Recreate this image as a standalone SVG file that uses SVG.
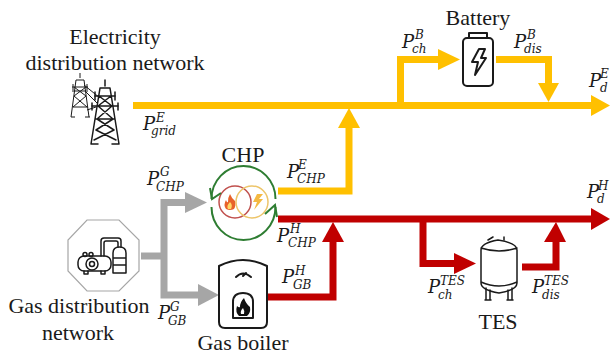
<svg xmlns="http://www.w3.org/2000/svg" width="610" height="355" viewBox="0 0 610 355">
<style>
text{font-family:"Liberation Serif","Times New Roman",serif;fill:#1a1a1a}
.t{font-size:22px}
.m{font-family:"DejaVu Serif",serif;font-size:18px;font-style:italic}
.s{font-family:"DejaVu Serif",serif;font-size:12px;font-style:italic}
.y{fill:none;stroke:#ffc000;stroke-width:7}
.r{fill:none;stroke:#c00000;stroke-width:7}
.g{fill:none;stroke:#a6a6a6;stroke-width:7}
.yh{fill:#ffc000}.rh{fill:#c00000}.gh{fill:#a6a6a6}
.i{fill:none;stroke:#1a1a1a;stroke-width:1.5;stroke-linejoin:round;stroke-linecap:round}
.it{fill:none;stroke:#1a1a1a;stroke-width:1;stroke-linejoin:round}
.k{fill:none;stroke:#1a1a1a;stroke-width:2;stroke-linejoin:round;stroke-linecap:round}
.gr{fill:none;stroke:#2e7d32;stroke-width:2}
</style>
<rect width="610" height="355" fill="#fff"/>
<g id="connectors">
<path class="y" d="M133 105.5H592"/><path class="yh" d="M591 95L610 105.500L591 116Z"/>
<path class="y" d="M400.500 105V59.500H439"/><path class="yh" d="M438 49L460 59.500L438 70Z"/>
<path class="y" d="M496 59.500H548.500V84"/><path class="yh" d="M538 83L559 83L548.500 102Z"/>
<path class="y" d="M278 191H349V128"/><path class="yh" d="M338 128H360L349 108Z"/>
<path class="r" d="M278 219H592"/><path class="rh" d="M591 208L610 219L591 230Z"/>
<path class="r" d="M267 297H333V241"/><path class="rh" d="M322 242H344L333 222Z"/>
<path class="r" d="M423 219V263.500H455"/><path class="rh" d="M454 253L476 263.500L454 274Z"/>
<path class="r" d="M522 267H556V241"/><path class="rh" d="M544 242H566L556 222Z"/>
<path class="g" d="M141 256H164"/>
<path class="g" d="M186 202.500H164V295H199"/>
<path class="gh" d="M185 192L207 202.500L185 213Z"/><path class="gh" d="M198 284L219 295L198 306Z"/>
</g>
<g id="grid">
<text class="t" x="115" y="44" text-anchor="middle">Electricity</text>
<text class="t" x="115" y="70" text-anchor="middle">distribution network</text>
<g class="it">
<path d="M80 73V78M76 80L71 117M84 80L89 117M76 80H84M72 87H88M74 87L86 96L73 107L88 107M86 87L74 96L87 107M71 117H75M85 117H90M72 91H88"/>
<path d="M73 84V90M87 84V90M84 85L100 98M86 92L98 104M87 110L96 107"/>
</g>
<g class="i">
<path d="M105 80V86M100 88L91 144M110 88L119 144M100 88H110M95 96H115M92 106H118M99 96L112 106L97 119L114 130L94 140M111 96L98 106L113 119L96 130L116 140M96 119H114M91 144H98M112 144H119"/>
<path d="M95 92V100M115 92V100M92 103V110M118 103V110"/>
</g>
</g>
<g id="gas-network">
<path d="M87 220H119L139 240V271L119 291H87L68 271V240Z" fill="#fff" stroke="#a6a6a6" stroke-width="1.200"/>
<g class="i">
<rect x="78" y="256" width="33" height="15" rx="6"/>
<circle cx="92" cy="264" r="6"/><circle cx="92" cy="264" r="2.500"/>
<circle cx="85" cy="254.500" r="2"/><circle cx="91" cy="254.500" r="2"/>
<path d="M84 271v3h4v-3M101 271v3h4v-3"/>
<path d="M113 273V253Q113 247 119.500 247Q126 247 126 253V273ZM113 258H126M113 265H126"/>
<path d="M101 256V241Q101 238 104 238H118Q121 238 121 241V247M104 256V243Q104 241 106 241H116Q118 241 118 243V247"/>
</g>
<text class="t" x="79" y="313" text-anchor="middle">Gas distribution</text>
<text class="t" x="78" y="340" text-anchor="middle">network</text>
</g>
<g id="chp">
<text class="t" x="243" y="162" text-anchor="middle">CHP</text>
<circle cx="235" cy="202" r="16" fill="none" stroke="#c0504d" stroke-width="1.500"/>
<circle cx="252" cy="202" r="16" fill="none" stroke="#edc56a" stroke-width="1.500"/>
<path d="M230 194Q232 199 235 201Q236 206 234 209Q230 211 226 209Q223 205 226 200Q227 203 228 202Q228 197 230 194Z" fill="#e8622a"/>
<path d="M230 202Q233 205 231 209H228Q226 206 230 202Z" fill="#ffd966"/>
<path d="M257 194H263L259 199H263L254 210L257 202H253Z" fill="#f4b942"/>
<path class="gr" d="M275.500 199A32 33 0 0 0 211.500 199"/>
<path class="gr" d="M211.500 207A32 33 0 0 0 275.500 207"/>
<path class="gr" d="M210 188L212 199L221 193"/>
<path class="gr" d="M265 214L275 205L277 217"/>
</g>
<g id="boiler">
<path class="k" d="M219 266Q243 254 267 266V322Q267 328 261 328H225Q219 328 219 322Z" stroke-width="1.800"/>
<path class="k" d="M236 277Q243 270 251 277M243 276L246 273" stroke-width="1.500"/>
<path class="k" d="M233 318V302Q233 293 243 293Q253 293 253 302V318Z" stroke-width="1.500"/>
<path d="M244 298Q246 304 250 307Q251 313 247 316H239Q235 312 237 306Q239 308 240 307Q240 302 244 298Z" fill="#111"/>
<path d="M243 308Q245 311 244 314H241Q240 311 243 308Z" fill="#fff"/>
<text class="t" x="243" y="350" text-anchor="middle">Gas boiler</text>
</g>
<g id="battery">
<text class="t" x="478" y="25" text-anchor="middle">Battery</text>
<rect x="463" y="38" width="30" height="48" rx="4" class="k"/>
<path class="k" d="M469 38V33H487V38" stroke-width="1.800"/>
<path class="k" d="M479 49H485L481 58H486L475 75L478 62H472Z" stroke-width="1.500"/>
</g>
<g id="tes">
<path class="i" stroke="#444" d="M481 250Q481 243 498 240Q517 243 517 250V283Q517 290 499 293Q481 290 481 283ZM481 248Q499 254 517 248M481 282Q499 290 517 282"/>
<path class="i" d="M488 240L493 237M504 237V240M486 288V300M490 290V300M508 290V300M512 288V300M485 300H491M507 300H513" stroke-width="1.200"/>
<text class="t" x="498" y="329" text-anchor="middle">TES</text>
</g>
<g id="labels">
<text><tspan class="m" x="143" y="130">P</tspan><tspan class="s" x="156" y="122">E</tspan><tspan class="s" x="151" y="135">grid</tspan></text>
<text><tspan class="m" x="147" y="185">P</tspan><tspan class="s" x="160" y="176">G</tspan><tspan class="s" x="156" y="191">CHP</tspan></text>
<text><tspan class="m" x="158" y="319">P</tspan><tspan class="s" x="170" y="311">G</tspan><tspan class="s" x="168" y="325">GB</tspan></text>
<text><tspan class="m" x="287" y="178">P</tspan><tspan class="s" x="298" y="169">E</tspan><tspan class="s" x="297" y="183">CHP</tspan></text>
<text><tspan class="m" x="277" y="242">P</tspan><tspan class="s" x="290" y="233">H</tspan><tspan class="s" x="288" y="247">CHP</tspan></text>
<text><tspan class="m" x="282" y="283">P</tspan><tspan class="s" x="295" y="275">H</tspan><tspan class="s" x="293" y="289">GB</tspan></text>
<text><tspan class="m" x="402" y="48">P</tspan><tspan class="s" x="415" y="39">B</tspan><tspan class="s" x="412" y="53">ch</tspan></text>
<text><tspan class="m" x="514" y="48">P</tspan><tspan class="s" x="527" y="39">B</tspan><tspan class="s" x="524" y="53">dis</tspan></text>
<text><tspan class="m" x="589" y="87">P</tspan><tspan class="s" x="600" y="78">E</tspan><tspan class="s" x="600" y="92">d</tspan></text>
<text><tspan class="m" x="587" y="198">P</tspan><tspan class="s" x="598" y="190">H</tspan><tspan class="s" x="597" y="203">d</tspan></text>
<text><tspan class="m" x="428" y="293">P</tspan><tspan class="s" x="440" y="285">TES</tspan><tspan class="s" x="438" y="299">ch</tspan></text>
<text><tspan class="m" x="532" y="293">P</tspan><tspan class="s" x="544" y="285">TES</tspan><tspan class="s" x="542" y="299">dis</tspan></text>
</g>
</svg>
